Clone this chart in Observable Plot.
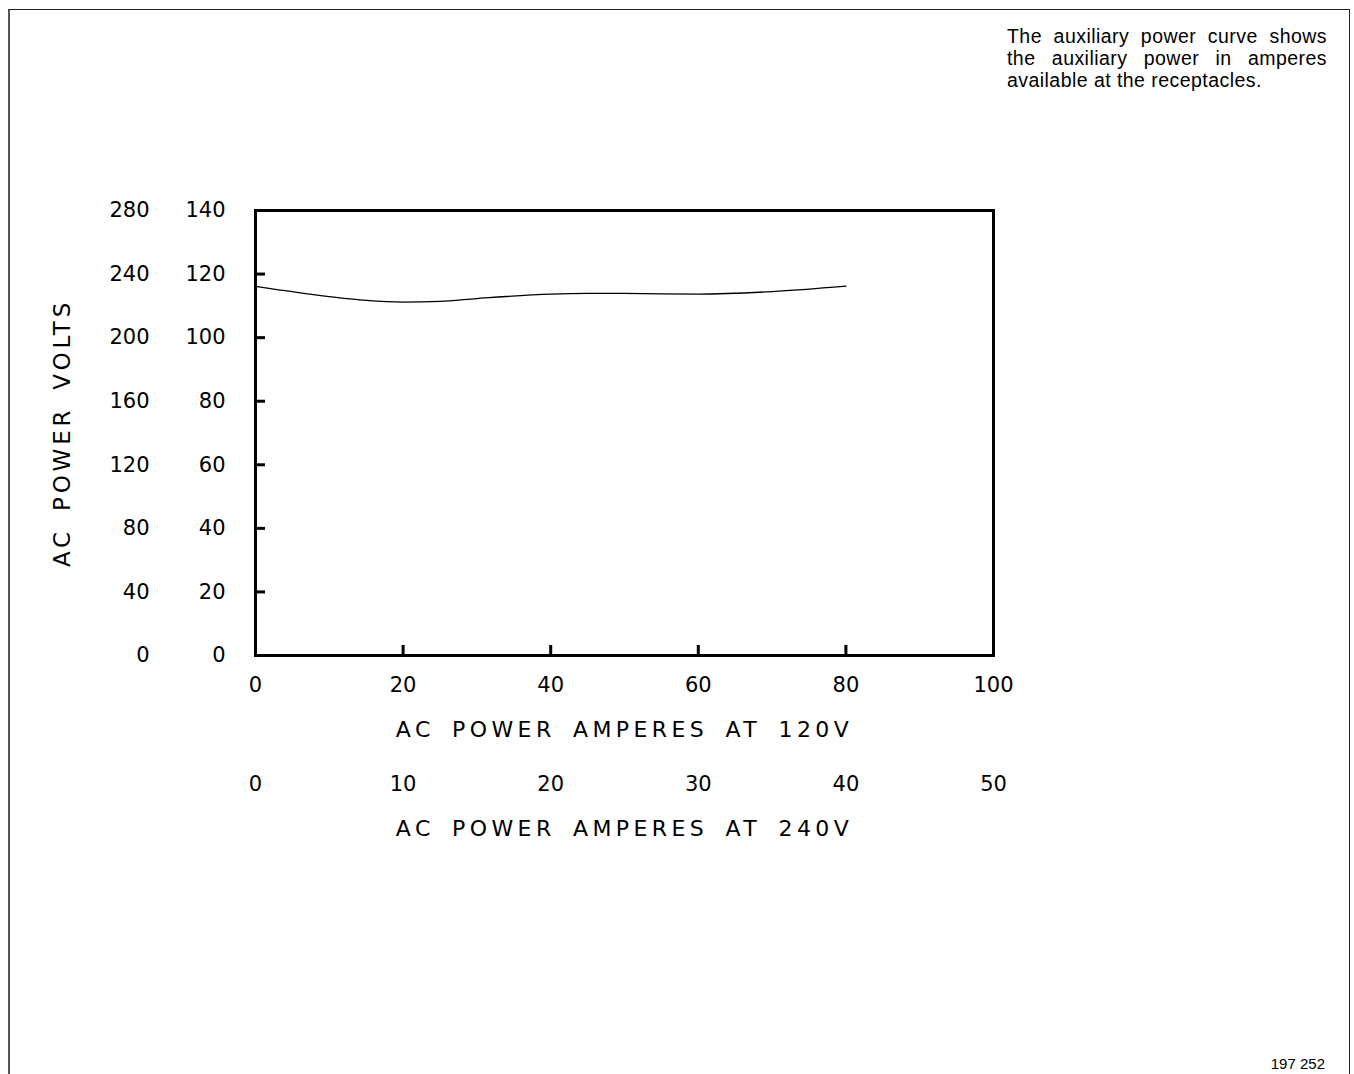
<!DOCTYPE html>
<html>
<head>
<meta charset="utf-8">
<script src="https://cdn.jsdelivr.net/npm/d3@7"></script>
<script src="https://cdn.jsdelivr.net/npm/@observablehq/plot@0.6"></script>
<style>
  html, body { margin: 0; padding: 0; background: #fff; overflow: hidden; }
  #page { position: relative; width: 1354px; height: 1074px; }
  #border { position: absolute; left: 8px; top: 9px; width: 1339px; height: 1100px; border-left: 2px solid #555; border-top: 1.5px solid #222; border-right: 1.5px solid #222; }
  #note { position: absolute; left: 1007px; top: 25px; width: 320px; font-family: "Liberation Sans", Arial, sans-serif; font-size: 19.5px; letter-spacing: 0.45px; line-height: 22px; color: #000; }
  #note .j { text-align: justify; text-align-last: justify; }
  #code { position: absolute; right: 29px; top: 1055px; font-family: "Liberation Sans", Arial, sans-serif; font-size: 15px; color: #000; }
  #chart { position: absolute; left: 0; top: 0; }
</style>
</head>
<body>
<div id="page">
  <div id="border"></div>
  <div id="note">
    <div class="j">The auxiliary power curve shows</div>
    <div class="j">the auxiliary power in amperes</div>
    <div>available at the receptacles.</div>
  </div>
  <div id="code">197 252</div>
  <div id="chart"></div>
</div>
<script>
// Curve data: amperes at 120 V vs volts at 120 V
const amps120 = [0, 10, 15, 20, 25, 30, 40, 45, 50, 60, 70, 80];
const volts120 = [116.1, 112.9, 111.7, 111.2, 111.4, 112.3, 113.7, 113.9, 113.9, 113.7, 114.5, 116.2];

// Axis tick values
const yTicks = [0, 20, 40, 60, 80, 100, 120, 140];
const yTickMarks = [20, 40, 60, 80, 100, 120];
const xTicks = [0, 20, 40, 60, 80, 100];
const xTickMarks = [20, 40, 60, 80];

// Titles
const xTitle120 = "AC POWER AMPERES AT 120V";
const xTitle240 = "AC POWER AMPERES AT 240V";
const yTitle = "AC POWER VOLTS";

const curve = amps120.map((a, i) => ({amps: a, volts: volts120[i]}));

const svg = Plot.plot({
  width: 1354,
  height: 880,
  marginLeft: 255,
  marginRight: 361,
  marginTop: 210,
  marginBottom: 225,
  style: {fontFamily: "DejaVu Sans", fontSize: "21px", background: "transparent", color: "#000", overflow: "visible"},
  x: {domain: [0, 100]},
  y: {domain: [0, 140]},
  marks: [
    Plot.frame({stroke: "#000", strokeWidth: 3}),
    Plot.axisY({ticks: yTickMarks, tickSize: -10, strokeWidth: 3, tickFormat: () => "", label: null}),
    Plot.axisX({ticks: xTickMarks, tickSize: -10, strokeWidth: 3, tickFormat: () => "", label: null}),
    Plot.axisY({ticks: yTicks, tickSize: 0, tickPadding: 30, label: null}),
    Plot.axisY({ticks: yTicks, tickSize: 0, tickPadding: 106, tickFormat: d => d * 2, label: null}),
    Plot.axisX({ticks: xTicks, tickSize: 0, tickPadding: 22, label: null}),
    Plot.axisX({ticks: xTicks, tickSize: 0, tickPadding: 121, tickFormat: d => d / 2, label: null}),
    Plot.text([xTitle120], {frameAnchor: "bottom", dy: 74, text: d => d, fontSize: 22, textAnchor: "middle", lineAnchor: "middle"}),
    Plot.text([xTitle240], {frameAnchor: "bottom", dy: 173, text: d => d, fontSize: 22, textAnchor: "middle", lineAnchor: "middle"}),
    Plot.text([yTitle], {frameAnchor: "left", dx: -193, rotate: -90, text: d => d, fontSize: 23, textAnchor: "middle", lineAnchor: "middle"}),
    Plot.line(curve, {x: "amps", y: "volts", curve: "monotone-x", stroke: "#000", strokeWidth: 1.3})
  ]
});

d3.select(svg).selectAll("text").each(function() {
  const t = this.textContent;
  if (t.startsWith("AC POWER AMPERES")) {
    d3.select(this).attr("letter-spacing", 4.4).attr("word-spacing", 6);
  } else if (t === yTitle) {
    d3.select(this).attr("letter-spacing", 3.8).attr("word-spacing", 6);
  }
});

document.getElementById("chart").appendChild(svg);
</script>
</body>
</html>
